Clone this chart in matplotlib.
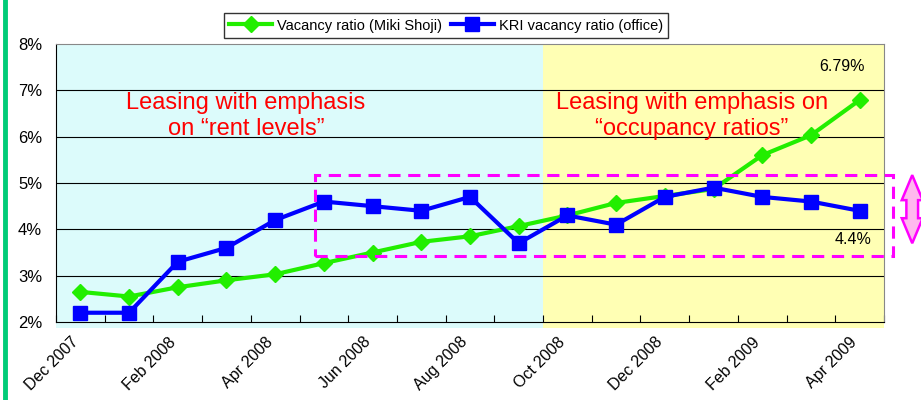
import matplotlib
matplotlib.use("Agg")
import matplotlib.pyplot as plt
import matplotlib.transforms as mtrans
from matplotlib.patches import Rectangle, Polygon
from matplotlib.lines import Line2D

plt.rcParams["font.family"] = ["Liberation Sans", "DejaVu Sans"]

# ── Data ──────────────────────────────────────────────────────────────────────
months = ["Dec 2007", "Jan 2008", "Feb 2008", "Mar 2008", "Apr 2008", "May 2008",
          "Jun 2008", "Jul 2008", "Aug 2008", "Sep 2008", "Oct 2008", "Nov 2008",
          "Dec 2008", "Jan 2009", "Feb 2009", "Mar 2009", "Apr 2009"]
miki = [2.65, 2.55, 2.75, 2.90, 3.03, 3.27, 3.50, 3.73, 3.85, 4.07,
        4.30, 4.57, 4.72, 4.87, 5.60, 6.03, 6.79]
kri = [2.20, 2.20, 3.30, 3.60, 4.20, 4.60, 4.50, 4.40, 4.70, 3.70,
       4.30, 4.10, 4.70, 4.90, 4.70, 4.60, 4.40]
y_ticks = [2, 3, 4, 5, 6, 7, 8]

GREEN = "#22ee00"
BLUE = "#0000ff"
MAGENTA = "#ff00ff"
RED = "#ff0000"

fig = plt.figure(figsize=(9.21, 4.0), dpi=100)
ax = fig.add_axes([0.0608, 0.195, 0.899, 0.695])

x = list(range(len(months)))
n = len(months)

# background phases
ax.add_patch(Rectangle((-0.5, 1.87), 10, 6.13, facecolor="#dcfbfb",
                       edgecolor="none", zorder=0, clip_on=False))
ax.add_patch(Rectangle((9.5, 1.87), 7, 6.13, facecolor="#ffffb4",
                       edgecolor="none", zorder=0, clip_on=False))

for yv in y_ticks[1:-1]:
    ax.axhline(yv, color="black", linewidth=0.8, zorder=1)

ax.plot(x, miki, "-D", color=GREEN, linewidth=3, markersize=8,
        label="Vacancy ratio (Miki Shoji)", zorder=3)
ax.plot(x, kri, "-s", color=BLUE, linewidth=3, markersize=10,
        label="KRI vacancy ratio (office)", zorder=4)

ax.set_xlim(-0.5, n - 0.5)
ax.set_ylim(2, 8)
ax.set_yticks(y_ticks)
ax.set_yticklabels([f"{v}%" for v in y_ticks], fontsize=12)
ax.tick_params(axis="y", length=0, pad=10)

ax.set_xticks([i - 0.5 for i in range(n + 1)])
ax.set_xticklabels([])
ax.tick_params(axis="x", which="major", direction="in", length=5)
ax.set_xticks(x[::2], minor=True)
ax.set_xticklabels(months[::2], minor=True, rotation=45, ha="right",
                   rotation_mode="anchor", fontsize=11.5)
ax.tick_params(axis="x", which="minor", length=0, pad=9)
shift = mtrans.ScaledTranslation(-10 / 100, 0, fig.dpi_scale_trans)
for lbl in ax.get_xticklabels(minor=True):
    lbl.set_transform(lbl.get_transform() + shift)

for s in ["left", "bottom"]:
    ax.spines[s].set_color("black")
ax.spines["right"].set_color("#888888")
ax.spines["top"].set_color("#888888")

# annotations
ax.text(3.4, 6.45, "Leasing with emphasis\non \u201crent levels\u201d", color=RED,
        fontsize=17, ha="center", va="center", linespacing=1.2, zorder=5)
ax.text(12.56, 6.45, "Leasing with emphasis on\n\u201coccupancy ratios\u201d", color=RED,
        fontsize=17, ha="center", va="center", linespacing=1.2, zorder=5)
ax.text(15.63, 7.52, "6.79%", fontsize=11.5, ha="center", va="center", zorder=5)
ax.text(15.86, 3.78, "4.4%", fontsize=11.5, ha="center", va="center", zorder=5)

# magenta dashed highlight box
ax.add_patch(Rectangle((4.82, 3.43), 11.86, 1.74, fill=False, edgecolor=MAGENTA,
                       linestyle=(0, (4, 2.5)), linewidth=2.2, clip_on=False,
                       zorder=6))

# double-headed block arrow
ax_x, hw, sw = 17.08, 0.215, 0.12
top, bot, head = 5.17, 3.70, 0.54
arrow = [(ax_x, top), (ax_x + hw, top - head), (ax_x + sw, top - head),
         (ax_x + sw, bot + head), (ax_x + hw, bot + head), (ax_x, bot),
         (ax_x - hw, bot + head), (ax_x - sw, bot + head), (ax_x - sw, top - head),
         (ax_x - hw, top - head)]
ax.add_patch(Polygon(arrow, closed=True, facecolor="#ffb8ee", edgecolor=MAGENTA,
                     linewidth=1.8, clip_on=False, zorder=6))

leg = fig.legend(loc="center", bbox_to_anchor=(0.484, 0.936), ncol=2, fontsize=10.5,
                 frameon=True, fancybox=False, edgecolor="black",
                 handlelength=3, columnspacing=0.6, handletextpad=0.3,
                 borderpad=0.35)
leg.get_frame().set_linewidth(1.0)

fig.add_artist(Line2D([0.0055, 0.0055], [0, 1], color="#00cc77", linewidth=3.5))

fig.savefig("out.png", dpi=100)
